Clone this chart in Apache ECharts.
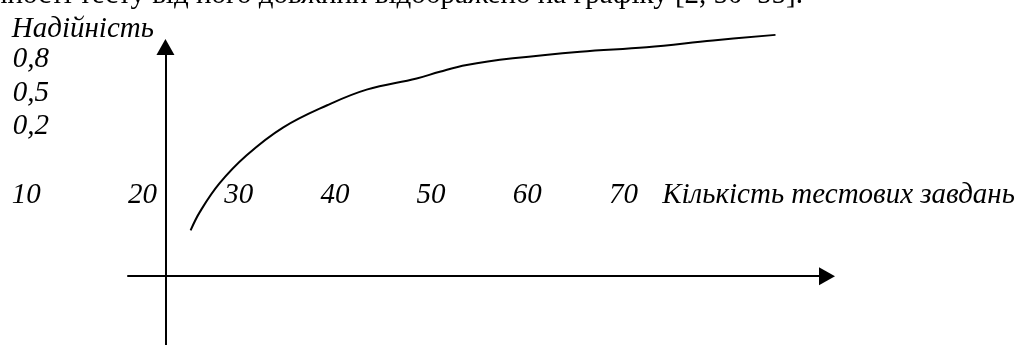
<!DOCTYPE html>
<html>
<head>
<meta charset="utf-8">
<script src="https://cdn.jsdelivr.net/npm/echarts@6/dist/echarts.min.js"></script>
<style>
  html, body { margin: 0; padding: 0; background: #fff; }
  #chart { width: 1019px; height: 345px; }
</style>
</head>
<body>
<div id="chart"></div>
<script>
// ---- data ----
const xTickValues = [10, 20, 30, 40, 50, 60, 70];
const yTickValues = [0.2, 0.5, 0.8];
const xAxisTitle = 'Кількість тестових завдань';
const yAxisTitle = 'Надійність';
const topSentence = 'надійності тесту від його довжини відображено на графіку [2, 50–55].';
const taskCount   = [25, 26, 28, 30.8, 34.6, 39.2, 43.3, 48.5, 50.9, 53.7, 58.5, 65.5, 72.4, 79.3, 85.8];
const reliability = [-0.73, -0.56, -0.31, -0.06, 0.19, 0.39, 0.53, 0.63, 0.69, 0.75, 0.81, 0.87, 0.91, 0.97, 1.02];

// ---- styles ----
const FONT = 'Liberation Serif';
const FS = 29;
const ink = '#000';

const chart = echarts.init(document.getElementById('chart'), null, { renderer: 'canvas' });

const option = {
  backgroundColor: '#fff',
  animation: false,
  title: {
    text: topSentence,
    right: 216,
    top: -19,
    padding: 0,
    textStyle: { fontFamily: FONT, fontSize: FS, fontWeight: 'normal', color: ink }
  },
  grid: [
    { left: 7.8, right: 10.7, top: 3.6, bottom: 0.7, containLabel: false, outerBoundsMode: 'none' },
    { left: 128, right: 192, top: 47, bottom: 0, containLabel: false, outerBoundsMode: 'none' }
  ],
  xAxis: [
    {
      gridIndex: 0, type: 'value', min: 6, max: 110,
      offset: -149.3,
      axisLine: { show: false, onZero: false },
      axisTick: { show: false },
      splitLine: { show: false },
      axisLabel: {
        customValues: xTickValues,
        margin: 0,
        verticalAlign: 'middle',
        color: ink, fontFamily: FONT, fontSize: FS, fontStyle: 'italic',
        formatter: function (v) { return v === xTickValues[0] ? '{lead|' + v + '}' : String(v); },
        rich: { lead: { padding: [0, 40, 0, 0], color: ink, fontFamily: FONT, fontSize: FS, fontStyle: 'italic' } }
      },
      name: xAxisTitle,
      nameLocation: 'end',
      nameGap: -346,
      nameMoveOverlap: false,
      nameTextStyle: { color: ink, fontFamily: FONT, fontSize: FS, fontStyle: 'italic', verticalAlign: 'middle' }
    },
    {
      gridIndex: 1, type: 'value', min: -0.06, max: 1.06,
      axisLine: { show: true, onZero: true, symbol: ['none', 'triangle'], symbolSize: [18, 16],
                  lineStyle: { color: ink, width: 2 } },
      axisTick: { show: false }, axisLabel: { show: false }, splitLine: { show: false }
    }
  ],
  yAxis: [
    {
      gridIndex: 0, type: 'value', min: -1.75, max: 1.3,
      axisLine: { show: false, onZero: false },
      axisTick: { show: false },
      splitLine: { show: false },
      axisLabel: {
        customValues: yTickValues,
        inside: true,
        margin: 5,
        color: ink, fontFamily: FONT, fontSize: FS, fontStyle: 'italic',
        formatter: function (v) { return String(v).replace('.', ','); }
      },
      name: yAxisTitle,
      nameLocation: 'end',
      nameGap: -40,
      nameMoveOverlap: false,
      nameTextStyle: { color: ink, fontFamily: FONT, fontSize: FS, fontStyle: 'italic', align: 'left', padding: [0, 0, 0, 4] }
    },
    {
      gridIndex: 1, type: 'value', min: -0.3, max: 1,
      axisLine: { show: true, onZero: true, symbol: ['none', 'triangle'], symbolSize: [18, 16],
                  lineStyle: { color: ink, width: 2 } },
      axisTick: { show: false }, axisLabel: { show: false }, splitLine: { show: false }
    }
  ],
  series: [
    {
      type: 'line',
      xAxisIndex: 0, yAxisIndex: 0,
      data: taskCount.map(function (x, i) { return [x, reliability[i]]; }),
      smooth: 0.4,
      showSymbol: false,
      symbol: 'none',
      clip: false,
      lineStyle: { color: ink, width: 2 }
    }
  ]
};

chart.setOption(option);
</script>
</body>
</html>
